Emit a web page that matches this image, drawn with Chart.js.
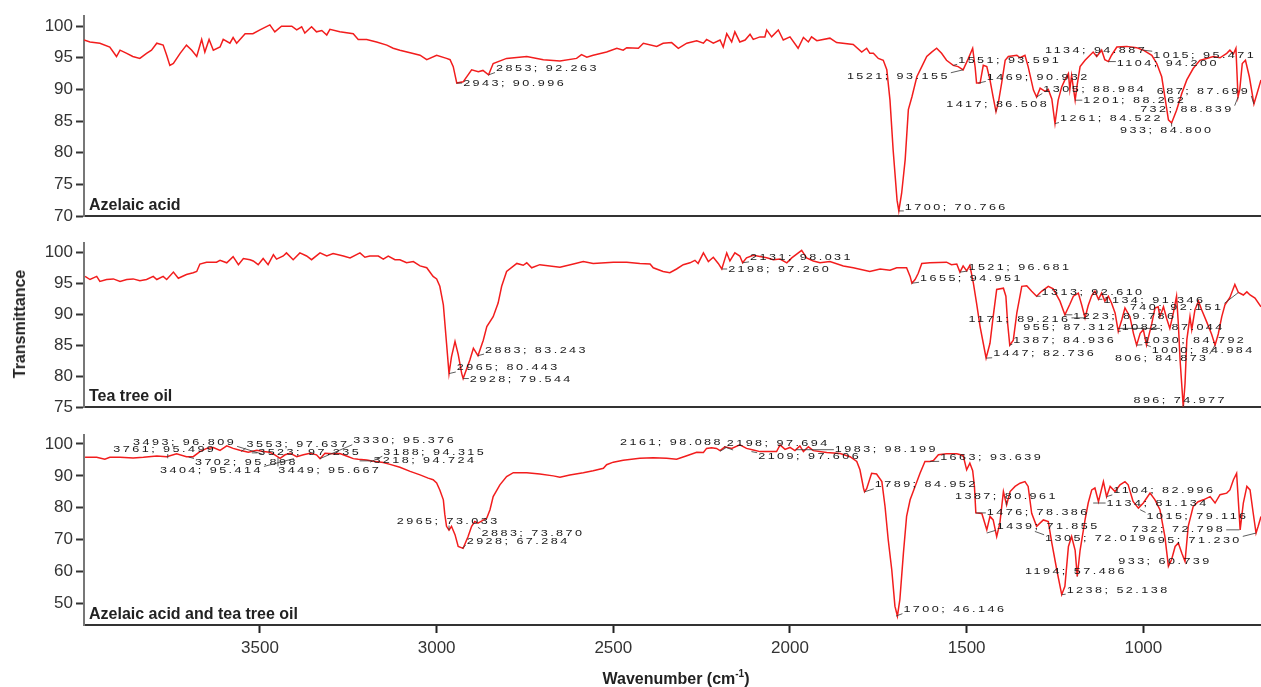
<!DOCTYPE html>
<html>
<head>
<meta charset="utf-8">
<script src="https://cdn.jsdelivr.net/npm/chart.js@4.4.1/dist/chart.umd.min.js"></script>
<style>
  body { margin: 0; background: #fff; width: 1261px; height: 687px; overflow: hidden; position: relative; font-family: "Liberation Sans", Arial, sans-serif; }
  .panel { position: absolute; left: 0; }
  #yTitle { position: absolute; left: 20px; top: 324px; transform: translate(-50%, -50%) rotate(-90deg); font-weight: bold; font-size: 16px; color: #222; white-space: nowrap; }
  #xTitle { position: absolute; left: 676px; top: 678px; transform: translate(-50%, -50%); font-weight: bold; font-size: 16px; color: #222; white-space: nowrap; }
  #xTitle sup { font-size: 10px; }
</style>
</head>
<body>
<div class="panel" style="top:0px"><canvas id="c1" width="1261" height="222"></canvas></div>
<div class="panel" style="top:230px"><canvas id="c2" width="1261" height="183"></canvas></div>
<div class="panel" style="top:420px"><canvas id="c3" width="1261" height="267"></canvas></div>
<div id="yTitle">Transmittance</div>
<div id="xTitle">Wavenumber (cm<sup>-1</sup>)</div>
<script>
// spectra: wavenumber (cm-1) and transmittance
const wnAzelaic = [3998,3981,3953,3925,3906,3896,3877,3860,3840,3821,3807,3792,3774,3764,3755,3745,3726,3708,3693,3679,3665,3656,3644,3632,3613,3604,3585,3576,3566,3542,3520,3500,3472,3458,3439,3410,3396,3382,3373,3354,3340,3325,3311,3302,3274,3236,3222,3198,3170,3141,3123,3104,3075,3047,3028,3000,2972,2962,2953,2943,2925,2901,2882,2869,2853,2840,2802,2745,2698,2651,2604,2590,2575,2557,2519,2490,2472,2462,2429,2415,2377,2359,2335,2316,2292,2264,2245,2236,2217,2198,2189,2179,2165,2156,2142,2127,2113,2104,2085,2071,2066,2052,2033,2019,2000,1977,1962,1948,1939,1924,1887,1868,1821,1797,1783,1774,1764,1750,1736,1726,1717,1708,1697,1692,1684,1674,1665,1655,1641,1627,1613,1599,1585,1571,1557,1538,1524,1510,1495,1483,1476,1472,1462,1453,1443,1434,1425,1417,1410,1401,1391,1382,1358,1349,1335,1326,1311,1302,1292,1278,1269,1259,1250,1241,1231,1222,1212,1208,1203,1193,1187,1179,1165,1142,1132,1118,1109,1099,1090,1075,1047,1019,1000,976,962,948,939,929,920,906,891,877,859,840,821,802,783,764,755,745,738,732,727,720,711,700,687,678,667];
const tAzelaic = [97.8,97.5,97.3,96.7,95.2,96.2,95.7,95.2,94.9,95.7,96.2,97.3,97.0,95.4,93.8,94.1,95.7,97.0,96.2,95.2,97.9,95.9,97.9,96.2,96.7,97.9,97.3,98.2,97.3,98.8,98.8,99.4,100.2,99.1,100.0,100.0,99.4,99.9,98.9,99.9,99.1,99.3,98.6,99.5,99.1,98.8,97.9,97.9,97.5,97.0,96.5,96.2,95.8,95.4,94.7,95.4,94.9,94.7,93.6,91.0,91.2,93.1,92.8,93.0,92.3,94.1,94.9,95.2,94.7,94.5,94.9,95.5,95.1,95.4,95.9,96.5,96.2,96.6,96.5,97.3,96.8,97.3,97.4,96.5,97.3,97.7,97.3,97.9,97.3,97.8,96.7,98.8,97.5,99.1,97.5,97.8,98.7,97.9,98.3,98.3,99.4,98.3,99.4,97.8,98.3,96.5,98.2,97.5,98.3,97.7,98.1,97.4,97.1,95.9,96.5,95.7,95.7,94.9,94.6,93.1,88.3,80.4,72.5,70.8,73.6,78.9,86.8,88.8,92.0,93.6,95.2,95.9,96.5,95.7,94.6,93.8,93.6,93.1,94.9,96.5,93.5,91.0,91.0,93.8,93.6,91.5,88.8,86.5,88.0,91.0,94.6,95.2,95.4,95.0,95.4,93.6,89.9,88.8,90.2,89.7,90.0,88.5,84.6,88.3,90.4,91.5,92.5,90.0,92.2,88.3,90.8,93.6,94.6,95.9,95.2,96.2,94.7,94.4,95.4,96.7,96.8,96.6,96.2,95.4,94.1,92.0,88.8,85.2,84.7,86.7,89.4,91.5,93.3,94.6,94.9,95.2,95.0,95.7,96.2,95.6,96.5,88.8,90.0,94.1,94.6,92.0,87.7,89.4,91.5];

const wnTea = [3995,3981,3962,3953,3934,3915,3896,3877,3859,3840,3821,3802,3792,3774,3764,3745,3731,3708,3689,3679,3670,3651,3623,3613,3594,3576,3561,3547,3528,3519,3505,3491,3477,3462,3453,3434,3425,3406,3387,3368,3354,3330,3311,3293,3264,3245,3217,3203,3189,3165,3151,3137,3118,3104,3085,3066,3047,3028,3010,3000,2991,2981,2972,2965,2958,2948,2939,2929,2925,2906,2896,2883,2868,2858,2840,2826,2816,2802,2773,2755,2745,2731,2708,2651,2613,2585,2557,2500,2462,2425,2396,2387,2359,2340,2321,2302,2283,2269,2260,2245,2231,2217,2203,2193,2179,2170,2156,2142,2134,2123,2104,2066,2047,2028,2009,1995,1967,1953,1934,1915,1887,1849,1821,1774,1745,1717,1698,1670,1660,1655,1646,1637,1627,1604,1557,1543,1528,1519,1510,1500,1491,1481,1472,1462,1453,1445,1434,1425,1415,1396,1389,1384,1378,1368,1358,1344,1330,1316,1302,1288,1269,1255,1236,1222,1208,1198,1184,1174,1165,1156,1146,1137,1127,1118,1109,1099,1090,1080,1071,1061,1052,1038,1028,1019,1009,1000,991,976,967,958,953,943,934,925,915,906,901,896,887,882,877,868,863,854,844,835,821,807,797,788,778,769,755,741,731,717,707,698,684,667];
const tTea = [96.1,95.6,96.1,95.3,95.6,95.7,95.3,95.6,95.7,95.4,95.6,96.1,95.6,96.1,95.6,96.8,95.8,96.4,96.7,96.9,98.1,98.4,98.4,98.7,98.3,99.3,98.0,99.0,98.8,98.6,98.0,99.0,98.0,99.6,98.9,99.4,99.9,98.8,99.9,99.4,98.8,99.9,99.4,99.8,99.4,99.1,99.9,99.2,99.4,99.4,98.9,99.4,98.8,98.8,98.3,98.5,97.8,97.5,96.1,95.7,94.5,91.5,85.3,80.4,83.1,85.6,83.5,80.4,79.6,82.6,84.5,83.3,85.8,88.0,89.6,91.8,94.5,96.9,98.2,97.9,98.3,97.5,98.0,97.6,98.1,98.5,98.2,98.4,98.4,98.2,98.1,97.5,96.9,96.7,97.3,98.0,98.3,98.7,98.2,99.9,98.5,99.2,98.2,97.3,99.9,98.6,99.9,99.4,98.3,99.1,99.5,99.1,98.8,98.9,98.3,99.1,100.3,99.1,98.6,98.3,98.5,97.8,97.5,96.9,97.3,97.1,97.5,97.5,96.1,95.0,95.6,96.6,98.2,98.3,98.4,98.0,98.1,96.8,97.8,97.0,97.9,95.0,91.8,88.0,85.3,82.9,85.3,89.6,94.0,94.2,92.9,88.5,85.0,85.8,90.2,94.5,94.6,93.7,92.9,93.7,94.5,94.1,92.1,89.9,91.6,92.9,93.4,91.4,89.4,91.4,93.0,93.7,92.4,93.4,92.1,92.9,91.8,90.2,87.2,89.1,91.0,89.6,86.9,85.0,86.9,87.5,85.0,88.5,91.0,91.2,89.6,91.2,89.3,87.7,90.2,92.9,88.5,82.6,75.0,78.8,85.8,89.6,87.5,90.7,92.1,90.7,88.8,86.8,85.0,86.8,89.6,91.5,92.7,94.8,93.5,93.1,93.6,93.1,92.6,91.2];

const wnMix = [3995,3962,3939,3925,3896,3859,3830,3792,3764,3736,3708,3689,3670,3651,3632,3613,3594,3576,3557,3533,3509,3491,3472,3458,3443,3429,3415,3396,3377,3358,3340,3330,3316,3293,3274,3255,3236,3222,3198,3179,3151,3132,3104,3075,3047,3024,3010,3000,2991,2981,2977,2972,2965,2958,2948,2939,2925,2911,2901,2892,2883,2858,2849,2840,2821,2802,2783,2745,2708,2670,2651,2623,2585,2557,2528,2519,2500,2472,2425,2387,2349,2321,2292,2264,2245,2236,2222,2208,2198,2184,2165,2142,2123,2104,2085,2061,2038,2028,2014,2000,1986,1972,1962,1948,1934,1896,1858,1830,1811,1802,1792,1789,1783,1769,1755,1740,1731,1722,1712,1703,1696,1689,1679,1670,1660,1646,1632,1618,1604,1594,1580,1557,1528,1510,1500,1491,1483,1478,1474,1457,1443,1434,1425,1415,1406,1396,1387,1377,1363,1349,1335,1326,1316,1302,1283,1269,1259,1245,1231,1222,1212,1203,1193,1187,1179,1165,1156,1146,1137,1127,1113,1104,1094,1080,1066,1052,1043,1029,1014,1000,981,967,953,939,929,920,910,901,891,882,873,859,845,830,811,797,783,764,755,745,736,726,717,707,698,689,681,675,667];
const tMix = [95.8,95.8,95.2,95.8,95.8,95.6,95.8,96.2,96.0,96.9,96.0,96.0,97.6,98.6,98.9,98.0,99.4,98.6,98.0,97.4,98.0,97.6,97.4,96.6,95.5,96.6,97.1,96.0,96.6,97.1,96.6,95.4,97.1,96.9,97.0,96.2,95.4,95.2,95.0,94.6,94.2,93.6,92.7,91.4,90.3,89.3,88.8,87.8,85.6,82.5,78.0,74.2,73.0,74.2,71.6,67.9,67.3,71.0,74.2,75.7,75.2,76.8,79.4,83.5,87.2,89.8,91.0,91.0,90.6,90.0,89.6,90.3,91.0,91.6,92.4,93.5,94.3,94.9,95.5,95.7,95.5,95.2,96.3,97.4,97.3,98.6,98.8,98.6,97.9,99.1,98.6,99.7,98.6,98.1,97.6,97.6,97.6,99.7,98.3,98.9,97.9,99.4,97.6,99.1,97.9,97.3,97.0,96.0,94.5,91.9,86.2,85.0,86.0,90.8,90.6,88.2,80.4,70.0,60.6,49.2,46.1,51.3,65.8,77.3,82.5,86.7,90.8,94.5,94.5,94.8,96.6,96.9,96.9,96.4,91.9,94.0,91.6,86.7,78.4,78.2,73.1,77.3,76.2,71.0,75.2,85.1,80.9,85.1,86.7,87.7,88.2,86.7,78.3,74.2,76.2,75.7,69.0,60.6,52.8,55.4,67.9,71.0,66.7,58.5,66.7,76.2,81.5,85.6,86.2,81.9,88.2,83.5,86.7,85.1,87.2,88.2,87.2,82.0,79.9,81.5,84.6,82.5,79.4,71.0,61.7,63.8,67.9,69.0,65.8,63.2,74.2,80.4,81.9,82.5,83.5,81.5,84.1,84.6,85.6,88.8,90.8,73.1,81.5,86.7,85.6,78.3,72.1,74.2,77.3];

// peak labels: text, peak wavenumber, peak value
const peaksAzelaic = [
  ['2943; 90.996', 2943, 91.0], ['2853; 92.263', 2853, 92.3], ['1521; 93.155', 1510, 93.1],
  ['1551; 93.591', 1538, 93.8], ['1469; 90.932', 1467, 91.0], ['1417; 86.508', 1417, 86.5],
  ['1305; 88.984', 1302, 88.8], ['1261; 84.522', 1250, 84.6], ['1201; 88.262', 1193, 88.3],
  ['1134; 94.887', 1132, 95.2], ['1104; 94.200', 1099, 94.4], ['1015; 95.471', 1000, 96.2],
  ['933; 84.800', 920, 84.7], ['732; 88.839', 732, 88.8], ['687; 87.699', 687, 87.7],
  ['1700; 70.766', 1692, 70.8]
];
// where each label's text starts (wavenumber, transmittance at text middle)
const textAzelaic = [[2925,90.95],[2832,93.3],[1839,92.0],[1524,94.6],[1443,91.9],[1558,87.6],[1283,90.0],[1236,85.4],[1170,88.2],[1278,96.2],[1075,94.1],[972,95.4],[1066,83.5],[1009,86.8],[962,89.6],[1675,71.4]];

const peaksTea = [
  ['2965; 80.443', 2965, 80.4], ['2928; 79.544', 2925, 79.6], ['2883; 83.243', 2883, 83.3],
  ['2198; 97.260', 2193, 97.3], ['2131; 98.031', 2134, 98.3], ['1655; 94.951', 1655, 95.0],
  ['1521; 96.681', 1519, 96.8], ['1313; 92.610', 1302, 92.9], ['1134; 91.346', 1127, 92.4],
  ['740; 92.151', 731, 93.5], ['1223; 89.786', 1222, 89.9], ['1171; 89.216', 1165, 89.4],
  ['955; 87.312', 953, 87.7], ['1082; 87.044', 1071, 87.2], ['1387; 84.936', 1378, 85.0],
  ['1447; 82.736', 1445, 82.9], ['1030; 84.792', 1019, 85.0], ['1000; 84.984', 991, 85.0],
  ['806; 84.873', 797, 85.0], ['896; 74.977', 887, 75.0]
];
const textTea = [[2943,81.3],[2906,79.4],[2863,84.2],[2175,97.2],[2113,99.1],[1632,95.8],[1495,97.6],[1288,93.5],[1113,92.2],[1038,91.1],[1198,89.7],[1495,89.2],[1340,87.9],[1061,87.9],[1368,85.8],[1425,83.6],[1000,85.7],[976,84.1],[1080,82.9],[1028,76.0]];

const peaksMix = [
  ['3493; 96.809', 3493, 96.8], ['3761; 95.499', 3761, 95.5], ['3553; 97.637', 3553, 97.6],
  ['3330; 95.376', 3330, 95.4], ['3523; 97.235', 3523, 97.2], ['3702; 95.898', 3702, 95.9],
  ['3404; 95.414', 3404, 95.4], ['3449; 95.667', 3449, 95.7], ['3188; 94.315', 3188, 94.3],
  ['3218; 94.724', 3218, 94.7], ['2965; 73.033', 2965, 73.0], ['2883; 73.870', 2883, 73.9],
  ['2928; 67.284', 2928, 67.3], ['2161; 98.088', 2161, 98.1], ['2198; 97.694', 2198, 97.7],
  ['2109; 97.606', 2109, 97.6], ['1983; 98.199', 1983, 98.2], ['1663; 93.639', 1604, 94.5],
  ['1789; 84.952', 1789, 85.0], ['1387; 80.961', 1387, 80.9], ['1476; 78.386', 1474, 78.4],
  ['1439; 71.855', 1443, 72.1], ['1305; 72.019', 1307, 72.6], ['1194; 57.486', 1187, 58.5],
  ['1238; 52.138', 1231, 52.8], ['1700; 46.146', 1700, 46.1], ['1104; 82.996', 1104, 83.5],
  ['1134; 81.134', 1142, 81.5], ['1015; 79.116', 1009, 79.4], ['732; 72.798', 728, 73.1],
  ['695; 71.230', 681, 72.1], ['933; 60.739', 929, 61.7]
];
const textMix = [[3859,100.5],[3915,98.1],[3538,99.9],[3236,101.0],[3505,97.4],[3684,94.2],[3783,91.7],[3448,91.7],[3151,97.4],[3179,94.8],[3113,75.7],[2873,72.1],[2915,69.5],[2481,100.4],[2179,100.0],[2090,96.0],[1873,98.4],[1575,95.8],[1760,87.2],[1533,83.5],[1443,78.6],[1415,74.2],[1278,70.3],[1335,59.9],[1217,54.2],[1679,48.1],[1085,85.3],[1104,81.25],[991,77.3],[1033,73.1],[986,69.8],[1071,63.2]];

const panelNames = ['Azelaic acid', 'Tea tree oil', 'Azelaic acid and tea tree oil'];
const yTicks1 = [70, 75, 80, 85, 90, 95, 100];
const yTicks2 = [75, 80, 85, 90, 95, 100];
const yTicks3 = [50, 60, 70, 80, 90, 100];
const xTicks = [3500, 3000, 2500, 2000, 1500, 1000];

const WN_MAX = 3998, WN_MIN = 667;
const FONT = '"Liberation Sans", Arial, Helvetica, sans-serif';

// peak labels + panel name
const peakLabelPlugin = {
  id: 'peakLabels',
  afterDatasetsDraw(chart, args, opts) {
    const ctx = chart.ctx, xs = chart.scales.x, ys = chart.scales.y;
    const ca = chart.chartArea;
    ctx.save();
    ctx.font = '9px ' + FONT;
    if ('letterSpacing' in ctx) ctx.letterSpacing = '1.75px';
    ctx.textBaseline = 'middle';
    ctx.fillStyle = '#1a1a1a';
    ctx.strokeStyle = '#333';
    ctx.lineWidth = 0.8;
    opts.peaks.forEach((p, i) => {
      const tx = xs.getPixelForValue(opts.text[i][0]);
      const ty = ys.getPixelForValue(opts.text[i][1]);
      const w = ctx.measureText(p[0]).width * 1.4;
      const px = xs.getPixelForValue(p[1]);
      const py = ys.getPixelForValue(p[2]);
      // nearest point of the text box
      const bx = Math.min(Math.max(px, tx - 1), tx + w + 1);
      const by = Math.min(Math.max(py, ty - 4), ty + 4);
      ctx.beginPath();
      ctx.moveTo(px, py);
      ctx.lineTo(bx, by);
      ctx.stroke();
      ctx.save();
      ctx.translate(tx, ty);
      ctx.scale(1.4, 1);
      ctx.fillText(p[0], 0, 0);
      ctx.restore();
    });
    ctx.restore();
    ctx.save();
    ctx.font = 'bold 16px ' + FONT;
    ctx.fillStyle = '#222';
    ctx.textBaseline = 'alphabetic';
    ctx.fillText(opts.name, ca.left + 5, ca.bottom - 6);
    ctx.restore();
  }
};

function makePanel(id, wn, t, yMin, yMax, yTicks, name, peaks, text, showX, padTop) {
  const pts = wn.map((w, i) => ({ x: w, y: t[i] }));
  return new Chart(document.getElementById(id), {
    type: 'line',
    data: {
      datasets: [{
        data: pts,
        borderColor: '#f21d1d',
        borderWidth: 1.5,
        pointRadius: 0,
        tension: 0,
        fill: false
      }]
    },
    options: {
      responsive: false,
      animation: false,
      devicePixelRatio: 1,
      layout: { padding: { top: padTop, right: 0, left: 0, bottom: 0 } },
      plugins: {
        legend: { display: false },
        tooltip: { enabled: false },
        peakLabels: { peaks: peaks, text: text, name: name }
      },
      scales: {
        x: {
          type: 'linear',
          reverse: true,
          min: WN_MIN,
          max: WN_MAX,
          afterBuildTicks: s => { s.ticks = xTicks.map(v => ({ value: v })); },
          afterFit: s => { s.height = showX ? 62 : 6; s.paddingLeft = 0; s.paddingRight = 0; },
          grid: { drawOnChartArea: false, drawTicks: showX, tickLength: 8, tickWidth: 2, tickColor: '#222' },
          border: { display: true, color: '#333', width: 2 },
          ticks: { display: showX, color: '#333', font: { size: 17, family: FONT }, padding: 5, maxRotation: 0, callback: v => String(v) }
        },
        y: {
          min: yMin,
          max: yMax,
          afterBuildTicks: s => { s.ticks = yTicks.map(v => ({ value: v })); },
          afterFit: s => { s.width = 84; s.paddingTop = 0; s.paddingBottom = 0; },
          grid: { drawOnChartArea: false, drawTicks: true, tickLength: 8, tickWidth: 2, tickColor: '#333' },
          border: { display: true, color: '#777', width: 2 },
          ticks: { color: '#333', font: { size: 17, family: FONT }, padding: 3 }
        }
      }
    },
    plugins: [peakLabelPlugin]
  });
}

makePanel('c1', wnAzelaic, tAzelaic, 70, 101.6, yTicks1, panelNames[0], peaksAzelaic, textAzelaic, false, 16);
makePanel('c2', wnTea, tTea, 75, 101.5, yTicks2, panelNames[1], peaksTea, textTea, false, 13);
makePanel('c3', wnMix, tMix, 43.3, 102.8, yTicks3, panelNames[2], peaksMix, textMix, true, 15);
</script>
</body>
</html>
